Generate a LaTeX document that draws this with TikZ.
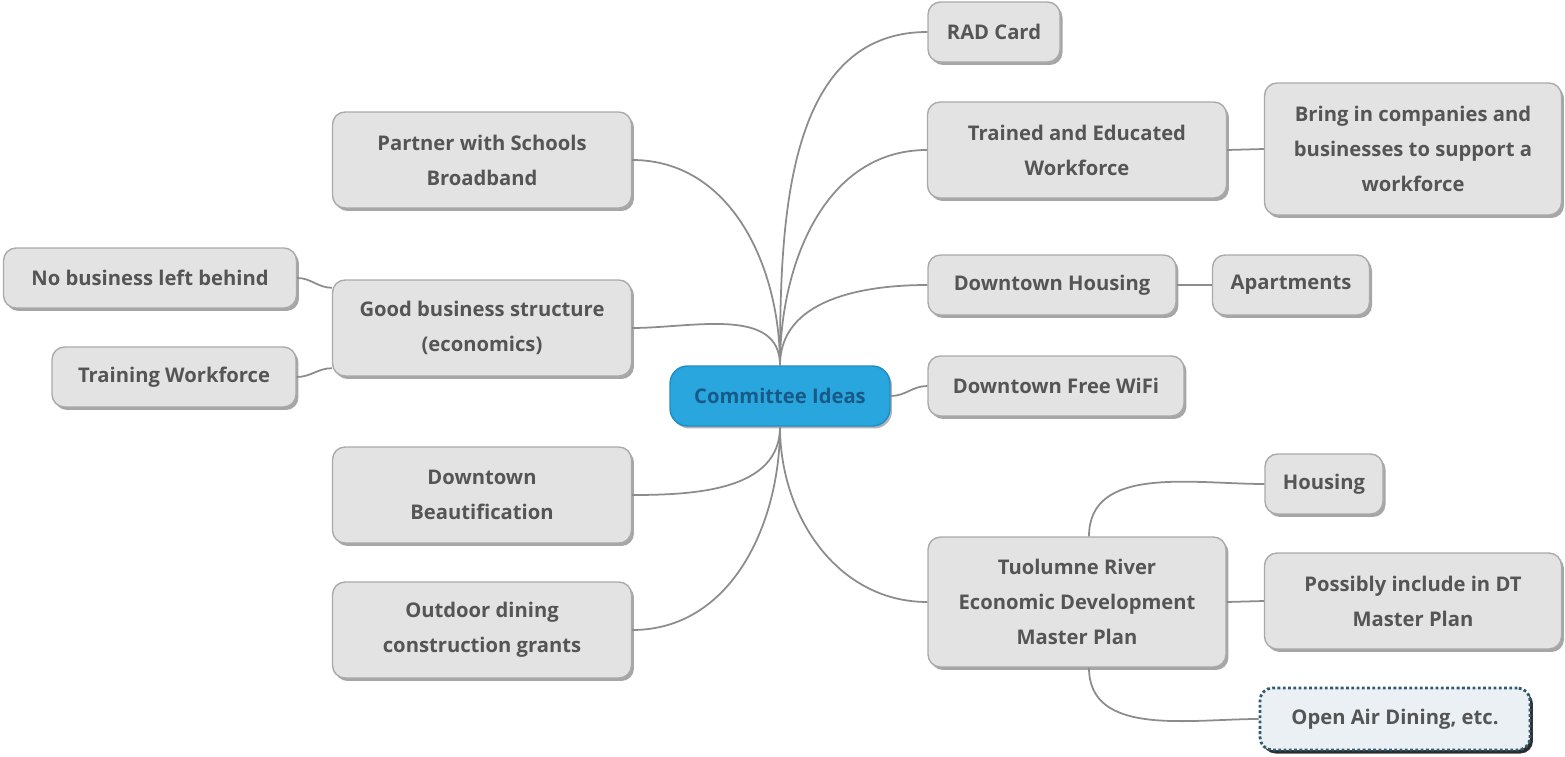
\documentclass[tikz,border=0pt]{standalone}
\usepackage{fontspec}
\setmainfont{Open Sans}
\usetikzlibrary{positioning, calc, shadows}
\definecolor{nodefill}{RGB}{227, 227, 227}
\definecolor{nodeline}{RGB}{170, 170, 170}
\definecolor{nodetext}{RGB}{85, 85, 85}
\definecolor{linegray}{RGB}{140, 140, 140}
\definecolor{rootblue}{RGB}{42, 166, 222}
\definecolor{rootedge}{RGB}{30, 140, 196}
\definecolor{roottext}{RGB}{24, 90, 135}
\definecolor{airfill}{RGB}{234, 240, 244}
\definecolor{airedge}{RGB}{50, 90, 110}

\begin{document}
\begin{tikzpicture}[
    x=0.02cm, y=-0.02cm,
    idea/.style={draw=nodeline, fill=nodefill, text=nodetext, rounded corners=0.25cm, line width=0.8pt, align=center, inner sep=2pt,
        font=\bfseries\fontsize{11.5}{20}\selectfont,
        drop shadow={shadow xshift=0.05cm, shadow yshift=-0.06cm, fill=black, opacity=0.35}},
    wide/.style={minimum width=5.98cm, minimum height=1.92cm},
    single/.style={minimum height=1.2cm},
    root/.style={draw=rootedge, fill=rootblue, text=roottext, rounded corners=0.35cm, line width=0.8pt, minimum width=4.4cm, minimum height=1.2cm,
        font=\bfseries\fontsize{11.5}{20}\selectfont,
        drop shadow={shadow xshift=0.04cm, shadow yshift=-0.05cm, fill=black, opacity=0.3}},
    branch/.style={draw=linegray, line width=1pt}
]
\useasboundingbox (0,0) rectangle (1565,757);

% Root
\node[root] (root) at (780,396) {Committee Ideas};

% Left side
\node[idea, wide] (partner) at (482,160) {Partner with Schools\\Broadband};
\node[idea, wide] (goodbiz) at (482,328) {Good business structure\\(economics)};
\node[idea, single, minimum width=5.86cm] (nobiz) at (150,278) {No business left behind};
\node[idea, single, minimum width=4.88cm] (trainwf) at (174,377) {Training Workforce};
\node[idea, wide] (beauty) at (482,495) {Downtown\\Beautification};
\node[idea, wide] (outdoor) at (482,630) {Outdoor dining\\construction grants};

% Right side
\node[idea, single, minimum width=2.64cm] (rad) at (994,32) {RAD Card};
\node[idea, wide] (trained) at (1077,150) {Trained and Educated\\Workforce};
\node[idea, minimum width=5.94cm, minimum height=2.64cm] (bringin) at (1413,149) {Bring in companies and\\businesses to support a\\workforce};
\node[idea, single, minimum width=4.96cm] (dthousing) at (1052,285) {Downtown Housing};
\node[idea, single, minimum width=3.14cm] (apts) at (1291,285) {Apartments};
\node[idea, single, minimum width=5.12cm] (wifi) at (1056,386) {Downtown Free WiFi};
\node[idea, minimum width=5.96cm, minimum height=2.6cm] (river) at (1077,602) {Tuolumne River\\Economic Development\\Master Plan};
\node[idea, single, minimum width=2.36cm] (housing) at (1324,484) {Housing};
\node[idea, wide, minimum width=5.94cm] (possibly) at (1413,601) {Possibly include in DT\\Master Plan};
\node[idea, single, minimum width=5.4cm, minimum height=1.24cm, fill=airfill, draw=airedge, line width=1.6pt,
    dash pattern=on 1.6pt off 1.4pt, drop shadow={shadow xshift=0.06cm, shadow yshift=-0.07cm, fill=black, opacity=0.75}] (openair) at (1395,719) {Open Air Dining, etc.};

% Main branches
\draw[branch] (root.north) to[out=90, in=0] (partner.east);
\draw[branch] (root.north) to[out=90, in=0] (goodbiz.east);
\draw[branch] (root.south) to[out=-90, in=0] (beauty.east);
\draw[branch] (root.south) to[out=-90, in=0] (outdoor.east);
\draw[branch] (root.north) to[out=90, in=180] (rad.west);
\draw[branch] (root.north) to[out=90, in=180] (trained.west);
\draw[branch] (root.north) to[out=90, in=180] (dthousing.west);
\draw[branch] (root.east) to[out=0, in=180] (wifi.west);
\draw[branch] (root.south) to[out=-90, in=180] (river.west);

% Sub branches
\draw[branch] (goodbiz.165) to[out=180, in=0] (nobiz.east);
\draw[branch] (goodbiz.195) to[out=180, in=0] (trainwf.east);
\draw[branch] (trained.east) -- (bringin.west);
\draw[branch] (dthousing.east) -- (apts.west);
\draw[branch] ($(river.north)+(12,0)$) to[out=90, in=180] (housing.west);
\draw[branch] (river.east) -- (possibly.west);
\draw[branch] ($(river.south)+(12,0)$) to[out=-90, in=180] (openair.west);

\end{tikzpicture}
\end{document}
